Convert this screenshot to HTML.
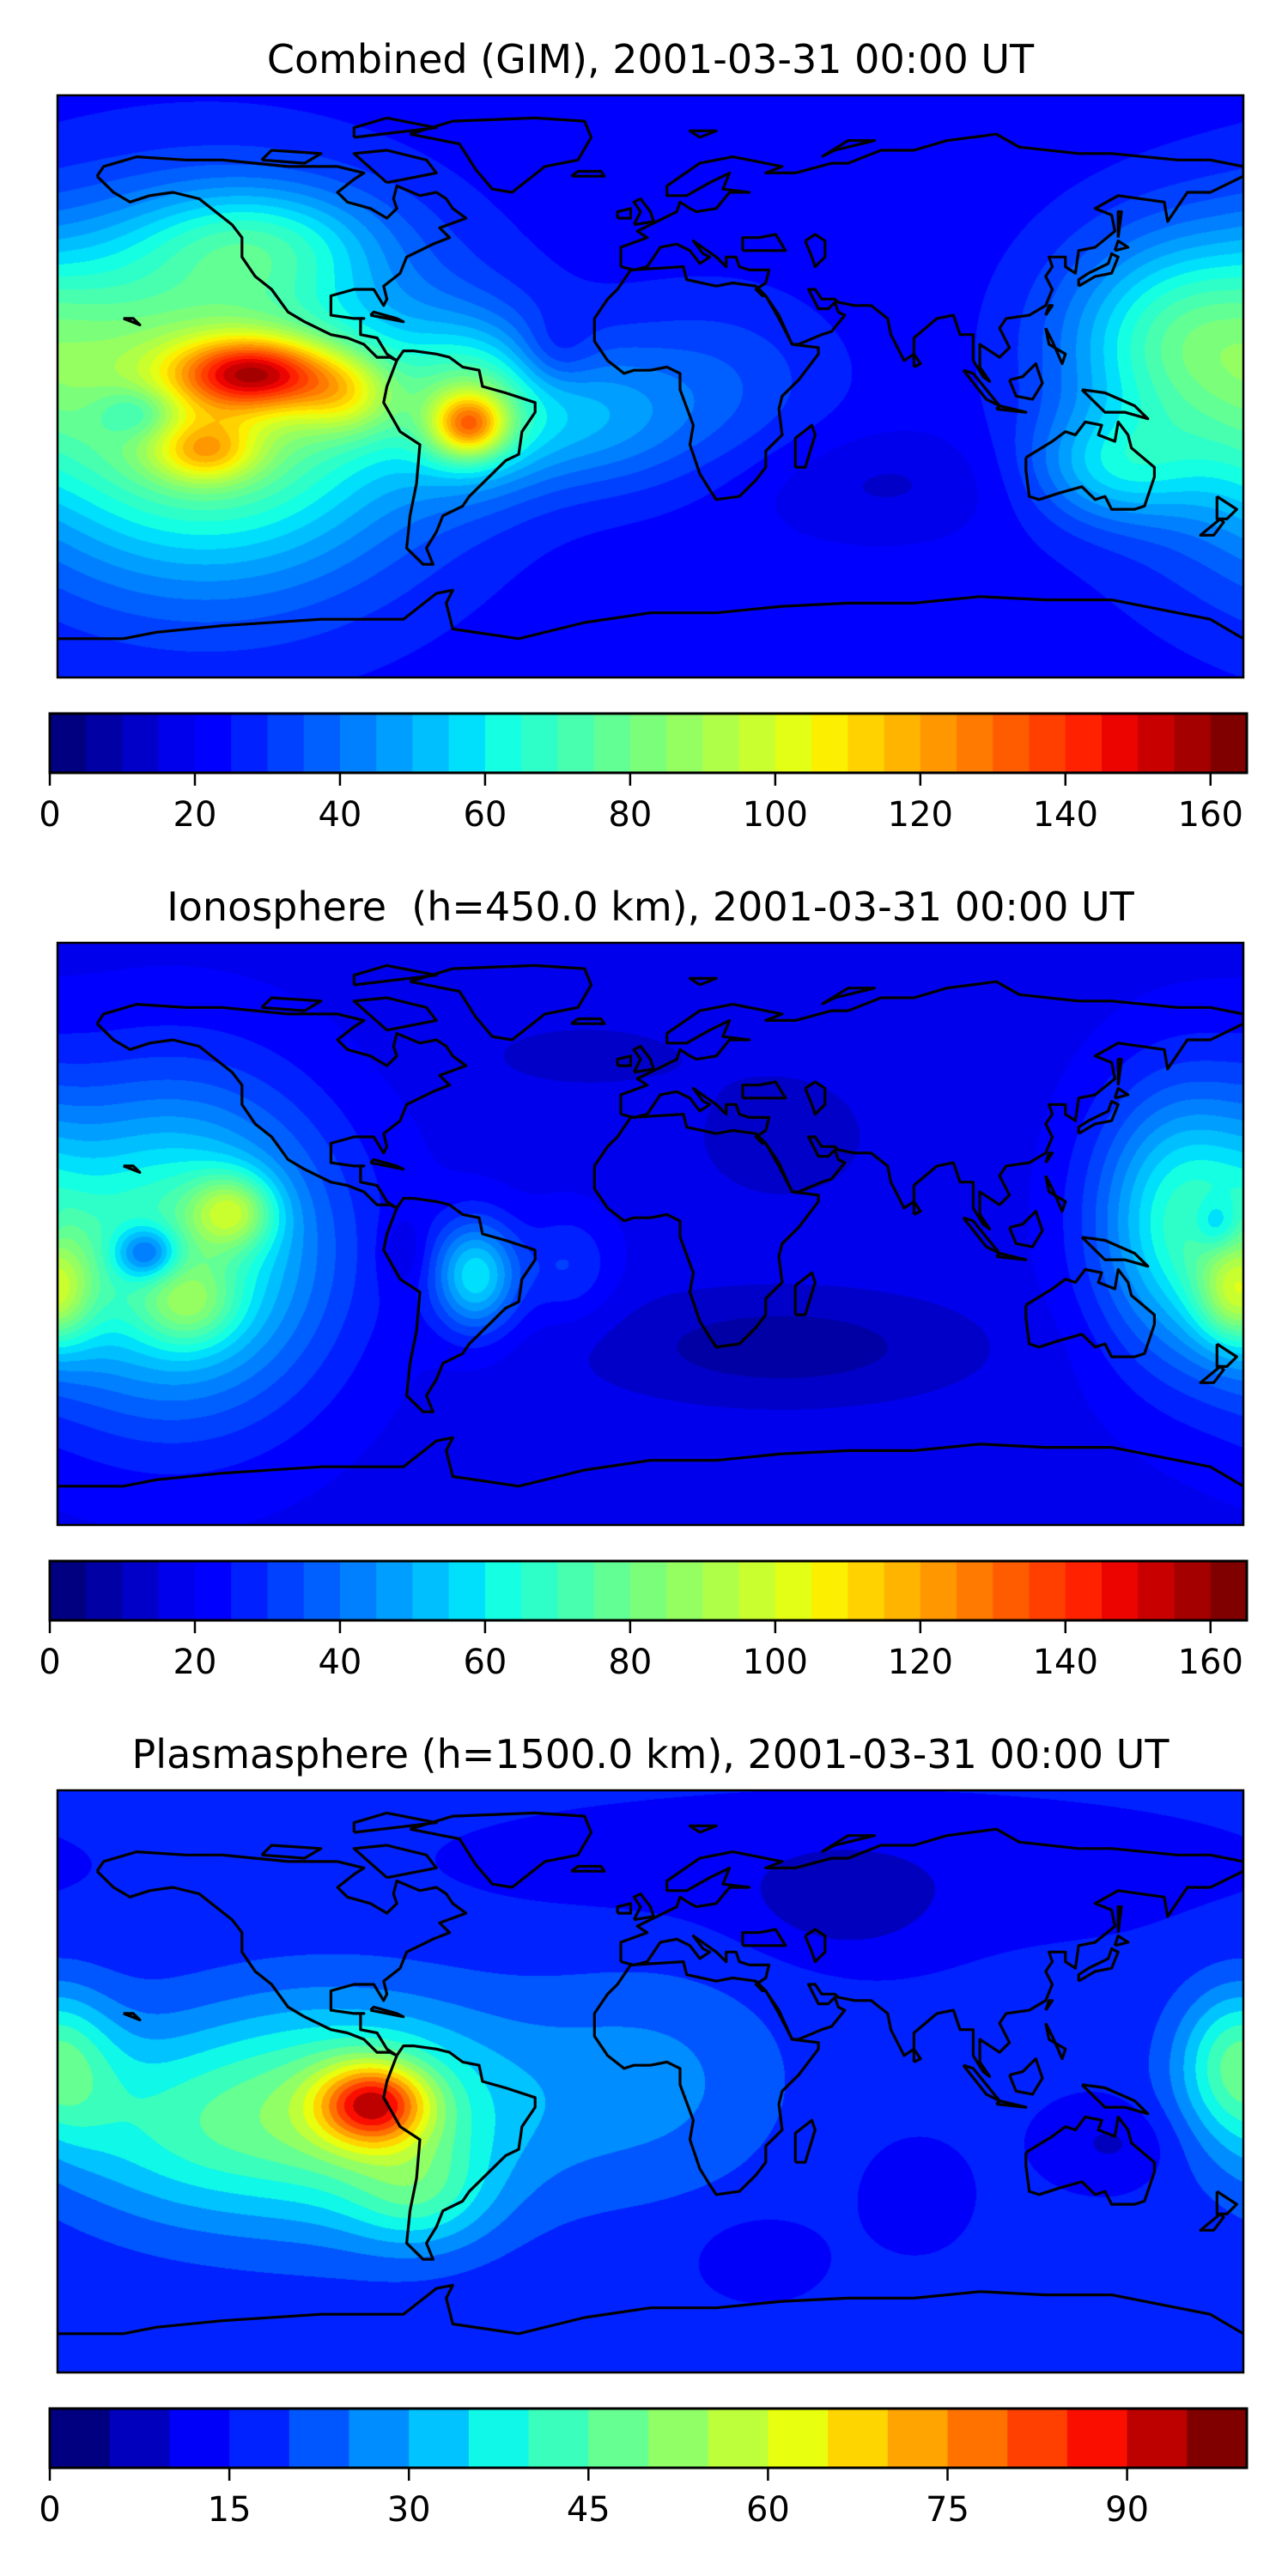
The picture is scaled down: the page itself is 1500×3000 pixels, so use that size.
<!DOCTYPE html>
<html><head><meta charset="utf-8"><style>
html,body{margin:0;padding:0;background:#fff;}
#wrap{position:relative;width:1500px;height:3000px;overflow:hidden;}
canvas{position:absolute;}
svg{position:absolute;left:0;top:0;}
text{white-space:pre;}
</style></head><body>
<div id="wrap">
<canvas id="c0"></canvas>
<canvas id="c1"></canvas>
<canvas id="c2"></canvas>
<svg id="ov" width="1500" height="3000"></svg>
</div>
<script>
// ---- data ----
const titles = ["Combined (GIM), 2001-03-31 00:00 UT","Ionosphere  (h=450.0 km), 2001-03-31 00:00 UT","Plasmasphere (h=1500.0 km), 2001-03-31 00:00 UT"];
const baseValues = [22, 18, 16];
const levelMax = [165, 165, 100];
const levelStep = [5, 5, 5];
const tickLabels0 = [0,20,40,60,80,100,120,140,160];
const tickLabels1 = [0,20,40,60,80,100,120,140,160];
const tickLabels2 = [0,15,30,45,60,75,90];
// blobs: lon, lat, amplitude, sigmaLon, sigmaLat
const blobLon0 = [-135,-120,-92,-135,-156,-55,-55,-120,-29,-20,20,160,140,70];
const blobLat0 = [-5,4,-3,-20,-8,-12,-5,45,10,-10,0,15,-25,-30];
const blobAmp0 = [70,70,32,35,-20,55,38,25,-10,22,12,35,25,-8];
const blobSx0  = [45,17,11,11,9,8,16,25,8,22,25,25,18,30];
const blobSy0  = [37,8,9,7,6,7,17,12,8,15,20,22,12,12];

const blobLon1 = [-145,-127,-153,-140,-180,-53,-75,160,172,178,40,40,-20,-25];
const blobLat1 = [-5,7,-6,-22,-15,-13,-6,5,3,-20,-35,30,55,-10];
const blobAmp1 = [56,36,-35,22,15,40,-8,38,-18,25,-11,-6,-5,12];
const blobSx1  = [32,9,7,10,10,9,5,18,5,8,40,20,25,10];
const blobSy1  = [34,8,6,9,15,12,8,28,6,10,12,15,8,12];

const blobLon2 = [-84,-95,-70,-180,178,-150,0,59,141,80,33,60];
const blobLat2 = [-7,-10,-35,2,8,-15,0,54,-19,-35,-54,65];
const blobAmp2 = [45,34,15,14,14,12,10,-7,-7,-6,-6,-4];
const blobSx2  = [12,38,15,15,12,25,30,20,14,10,12,80];
const blobSy2  = [9,24,12,18,15,20,25,12,9,10,8,15];

const blobSets = [
  [blobLon0,blobLat0,blobAmp0,blobSx0,blobSy0],
  [blobLon1,blobLat1,blobAmp1,blobSx1,blobSy1],
  [blobLon2,blobLat2,blobAmp2,blobSx2,blobSy2]];
const tickSets=[tickLabels0,tickLabels1,tickLabels2];

// coastlines (lon,lat pairs)
const coasts = [
[-168,65,-163,60,-158,57,-152,59,-145,60,-137,58,-132,54,-127,50,-124,46,-124,40,-120,34,-115,30,-110,23,-105,20,-97,16,-92,15,-87,13,-83,9,-79,9,-77,8,-80,10,-83,15,-88,16,-88,21,-87,21,-90,21,-97,22,-97,28,-90,30,-84,30,-81,25,-80,27,-81,31,-76,35,-74,40,-70,42,-66,44,-61,46,-64,49,-56,52,-60,55,-62,58,-65,60,-70,59,-77,62,-78,58,-77,55,-80,52,-85,55,-92,57,-95,60,-90,64,-87,66,-95,68,-110,68,-120,69,-130,70,-141,70,-156,71,-166,68,-168,65],
[-73,78,-60,82,-35,83,-20,82,-18,77,-22,70,-32,68,-42,60,-48,61,-53,67,-58,75,-73,78],
[-77,8,-80,0,-81,-5,-76,-14,-70,-18,-71,-30,-73,-40,-74,-50,-69,-55,-66,-55,-68,-50,-65,-45,-63,-40,-57,-37,-55,-34,-48,-27,-44,-23,-40,-21,-39,-14,-35,-8,-35,-5,-44,-2,-51,0,-52,5,-57,6,-61,9,-65,10,-72,11,-75,11,-77,8],
[-9,37,-9,43,-1,46,-4,48,2,51,8,54,9,57,12,55,14,54,20,55,24,60,30,60,22,61,24,66,18,63,11,59,5,59,5,62,15,69,25,71,40,68,35,66,44,66,55,69,60,69,70,73,80,73,90,76,105,78,112,74,130,72,140,72,160,70,170,70,180,68,180,65,170,60,163,60,157,51,156,57,142,59,135,55,140,53,141,48,135,43,130,42,129,35,126,37,126,40,121,40,122,37,120,34,122,30,120,25,115,22,108,21,106,18,109,12,106,9,100,13,100,6,103,1.5,101,3,98,8,98,16,94,16,92,22,87,21,80,15,80,10,77,8,73,16,72,21,67,25,62,25,57,26,56,27,52,27,50,30,48,30,50,26,51,24,54,24,56,26,57,23,59,22,55,17,52,16,45,13,43,13,39,21,35,28,34,28,32,30,35,32,36,36,30,36,27,37,26,40,23,40,23,37,20,40,13,45,16,41,18,40,15,38,12,42,8,44,3,43,-1,37,-5,36,-9,37],
[47,45,50,47,53,45,53,40,50,37,49,40,47,45],
[28,42,28,46,33,46,38,47,41,42,35,42,28,42],
[-6,36,10,37,11,33,20,31,25,32,32,31,35,28,39,22,43,13,51,12,51,10,45,2,40,-3,39,-7,40,-15,35,-20,35,-25,32,-29,27,-34,20,-35,18,-32,15,-27,12,-18,13,-12,9,-1,9,4,5,6,0,5,-5,5,-8,4,-13,8,-17,14,-17,21,-13,27,-10,30,-6,36],
[44,-25,47,-25,50,-15,49,-12,44,-16,44,-25],
[114,-22,114,-26,115,-34,118,-35,124,-33,131,-31,135,-35,138,-34,140,-38,147,-38,150,-37,153,-28,153,-25,146,-19,145,-15,142,-11,141,-17,136,-15,137,-12,132,-11,129,-15,126,-14,122,-17,114,-22],
[-180,-78,-160,-78,-150,-76,-130,-74,-100,-72,-75,-72,-65,-64,-60,-63,-62,-67,-60,-75,-40,-78,-20,-73,0,-70,20,-70,40,-68,60,-67,80,-67,100,-65,120,-66,140,-66,160,-70,170,-72,180,-78],
[-5,50,1,51,0,54,-3,58,-5,57,-3,54,-5,50],
[-10,52,-6,52,-6,55,-10,54,-10,52],
[130,31,135,34,140,35,142,40,140,41,139,38,133,35,130,33,130,31],
[141,42,145,43,142,45,141,42],
[109,2,111,-3,116,-4,119,1,117,7,113,3,109,2],
[95,5,98,4,106,-6,102,-4,95,5],
[105,-7,114,-8,106,-6,105,-7],
[131,-1,138,-2,147,-6,151,-10,144,-8,138,-8,131,-1],
[172,-34,178,-38,175,-41,172,-41,172,-34],
[173,-41,174,-42,171,-46,167,-46,173,-41],
[120,18,122,14,125,7,126,10,121,13,120,18],
[80,6,82,7,80,10,80,6],
[-85,22,-75,20,-77,21,-84,23,-85,22],
[-24,65,-14,65,-15,66.5,-22,66.5,-24,65],
[-80,63,-65,66,-68,70,-80,73,-90,72,-80,63],
[-118,70,-105,69,-100,72,-115,73,-118,70],
[-90,77,-65,80,-80,83,-90,80,-90,77],
[15,77,20,79,12,79,15,77],
[52,71,56,73,68,76,60,76,52,71],
[120,22,122,25,121,25,120,22],
[142,46,143,54,142,54,142,46],
[-160,21,-155,19,-157,21,-160,21]
];

// ---- layout ----
const MX0=67, MX1=1448, MY0=111, MY1=789, CX0=58, CX1=1452, CY0=831, CY1=900, OFF=987;
const MW=MX1-MX0, MH=MY1-MY0;
const NS='http://www.w3.org/2000/svg';
const ov=document.getElementById('ov');

function jetChan(t,pts){for(let i=1;i<pts.length;i++){if(t<=pts[i][0]){const a=pts[i-1],b=pts[i];return a[1]+(b[1]-a[1])*(t-a[0])/(b[0]-a[0]);}}return pts[pts.length-1][1];}
const JR=[[0,0],[0.35,0],[0.66,1],[0.89,1],[1,0.5]];
const JG=[[0,0],[0.125,0],[0.375,1],[0.64,1],[0.91,0],[1,0]];
const JB=[[0,0.5],[0.11,1],[0.34,1],[0.65,0],[1,0]];
function jet(t){return [Math.round(255*jetChan(t,JR)),Math.round(255*jetChan(t,JG)),Math.round(255*jetChan(t,JB))];}

function xOfLon(lon){return MX0+(lon+180)/360*MW;}
function yOfLat(lat,o){return o+MY0+(90-lat)/180*MH;}

function mk(tag,attrs,parent){const e=document.createElementNS(NS,tag);for(const k in attrs)e.setAttribute(k,attrs[k]);(parent||ov).appendChild(e);return e;}

const defs=mk('defs',{});
for(let p=0;p<3;p++){
  const o=p*OFF;
  const cv=document.getElementById('c'+p);
  cv.width=MW;cv.height=MH;cv.style.left=MX0+'px';cv.style.top=(MY0+o)+'px';
  const ctx=cv.getContext('2d');const img=ctx.createImageData(MW,MH);
  const [bl,bt,ba,bsx,bsy]=blobSets[p];
  const n=levelMax[p]/levelStep[p];
  const cols=[];for(let i=0;i<n;i++)cols.push(jet(i/(n-1)));
  for(let y=0;y<MH;y++){
    const lat=90-(y+0.5)/MH*180;
    for(let x=0;x<MW;x++){
      const lon=-180+(x+0.5)/MW*360;
      let v=baseValues[p];
      for(let k=0;k<bl.length;k++){
        let dl=lon-bl[k];if(dl>180)dl-=360;if(dl<-180)dl+=360;
        const dy=lat-bt[k];
        v+=ba[k]*Math.exp(-0.5*(dl*dl/(bsx[k]*bsx[k])+dy*dy/(bsy[k]*bsy[k])));
      }
      let li=Math.floor(v/levelStep[p]);if(li<0)li=0;if(li>n-1)li=n-1;
      const c=cols[li];const idx=(y*MW+x)*4;
      img.data[idx]=c[0];img.data[idx+1]=c[1];img.data[idx+2]=c[2];img.data[idx+3]=255;
    }
  }
  ctx.putImageData(img,0,0);

  const t=mk('text',{x:(MX0+MX1)/2,y:85+o,'text-anchor':'middle','font-family':'DejaVu Sans, Liberation Sans, sans-serif','font-size':46,fill:'#000'});
  t.textContent=titles[p];
  
  

  const cp=mk('clipPath',{id:'clip'+p},defs);
  mk('rect',{x:MX0,y:MY0+o,width:MW,height:MH},cp);
  const g=mk('g',{'clip-path':'url(#clip'+p+')',fill:'none',stroke:'#000','stroke-width':3.2,'stroke-linejoin':'round'});
  
  
  coasts.forEach(c=>{
    let d='';
    for(let i=0;i<c.length;i+=2)d+=(i?'L':'M')+xOfLon(c[i]).toFixed(1)+','+yOfLat(c[i+1],o).toFixed(1);
    const pth=mk('path',{d:d},g);
    
    
  });
  const fr=mk('rect',{x:MX0,y:MY0+o,width:MW,height:MH,fill:'none',stroke:'#000','stroke-width':2.5});
  
  

  const cb=mk('g',{});
  
  
  const bw=(CX1-CX0)/n;
  for(let i=0;i<n;i++){
    const c=cols[i];
    const r=mk('rect',{x:CX0+i*bw,y:CY0+o,width:bw+0.6,height:CY1-CY0,fill:'rgb('+c[0]+','+c[1]+','+c[2]+')'},cb);
    
    
  }
  mk('rect',{x:CX0,y:CY0+o,width:CX1-CX0,height:CY1-CY0,fill:'none',stroke:'#000','stroke-width':3},cb);
  tickSets[p].forEach(v=>{
    const x=CX0+v/levelMax[p]*(CX1-CX0);
    mk('line',{x1:x,x2:x,y1:CY1+o,y2:CY1+o+15,stroke:'#000','stroke-width':2.5},cb);
    const tl=mk('text',{x:x,y:962+o,'text-anchor':'middle','font-family':'DejaVu Sans, Liberation Sans, sans-serif','font-size':40,fill:'#000'},cb);
    tl.textContent=v;
    
    
  });
}
</script>
</body></html>
